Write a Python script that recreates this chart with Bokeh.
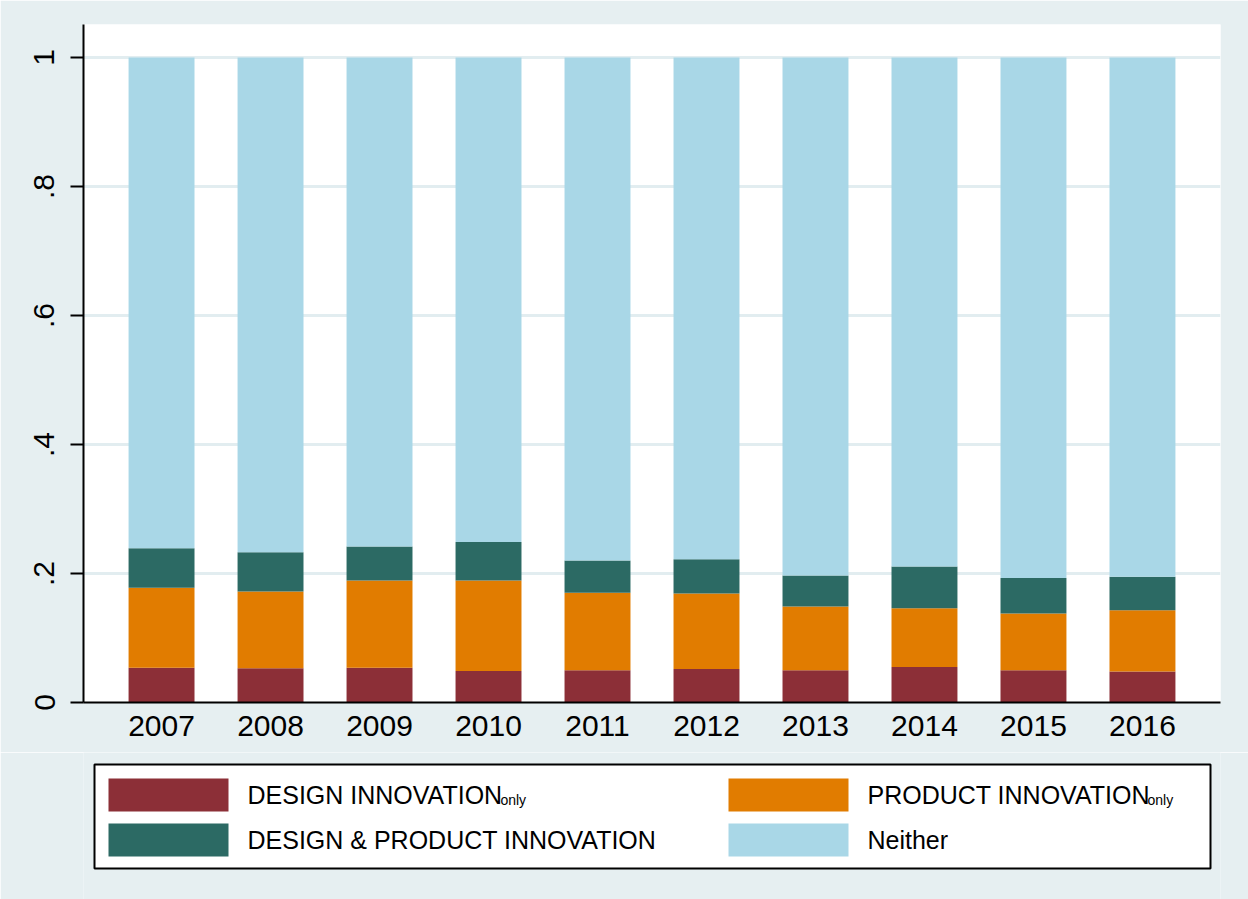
import math
from bokeh.plotting import figure
from bokeh.models import ColumnDataSource, Range1d, FixedTicker
from bokeh.layouts import column
from bokeh.core.properties import value
from bokeh.embed import file_html
from bokeh.resources import INLINE

# ---- data ----
years = [2007, 2008, 2009, 2010, 2011, 2012, 2013, 2014, 2015, 2016]
design_only = [0.054, 0.053, 0.054, 0.049, 0.050, 0.052, 0.050, 0.055, 0.050, 0.048]
product_only = [0.124, 0.119, 0.135, 0.140, 0.120, 0.117, 0.099, 0.091, 0.088, 0.095]
design_and_product = [0.061, 0.061, 0.053, 0.060, 0.050, 0.053, 0.048, 0.065, 0.055, 0.052]
neither = [0.761, 0.767, 0.758, 0.751, 0.780, 0.778, 0.803, 0.789, 0.807, 0.805]

y_ticks = [0, 0.2, 0.4, 0.6, 0.8, 1.0]
y_tick_labels = ["0", ".2", ".4", ".6", ".8", "1"]

series_keys = ["design_only", "product_only", "design_and_product", "neither"]
series_colors = ["#8C2F37", "#E17C00", "#2C6A64", "#A9D7E7"]
legend_main = ["DESIGN INNOVATION", "PRODUCT INNOVATION", "DESIGN & PRODUCT INNOVATION", "Neither"]
legend_sub = ["only", "only", "", ""]

BG = "#E6EFF1"
FONT = "Liberation Sans"
W = 1248
TOP_H = 752
LEG_H = 147
FR_L, FR_R = 83, 1220

source = ColumnDataSource(dict(
    year=years,
    design_only=design_only,
    product_only=product_only,
    design_and_product=design_and_product,
    neither=neither,
))

p = figure(width=W, height=TOP_H, output_backend="svg", toolbar_location=None,
           x_range=Range1d(2006.284, 2016.716), y_range=Range1d(0, 1.0512),
           min_border_left=FR_L, min_border_right=W - FR_R, min_border_top=24,
           min_border_bottom=50)
p.background_fill_color = "white"
p.border_fill_color = BG
p.outline_line_color = None

p.vbar_stack(series_keys, x="year", width=0.605, color=series_colors, source=source,
             line_color=None)

ticker = FixedTicker(ticks=y_ticks)
p.yaxis.ticker = ticker
p.yaxis.major_label_overrides = {t: l for t, l in zip(y_ticks, y_tick_labels)}
p.yaxis.major_label_orientation = "parallel"
p.yaxis.major_tick_out = 13
p.yaxis.major_tick_in = 0
p.yaxis.minor_tick_line_color = None
p.yaxis.major_tick_line_width = 2
p.yaxis.major_tick_line_color = "black"
p.yaxis.axis_line_width = 2
p.yaxis.axis_line_color = "black"
p.yaxis.major_label_standoff = 16

p.xaxis.ticker = FixedTicker(ticks=years)
p.xaxis.major_tick_out = 0
p.xaxis.major_tick_in = 0
p.xaxis.minor_tick_line_color = None
p.xaxis.axis_line_width = 2
p.xaxis.axis_line_color = "black"
p.xaxis.major_label_standoff = 13

for ax in (p.xaxis, p.yaxis):
    ax.major_label_text_font = FONT
    ax.major_label_text_font_size = "30px"
    ax.major_label_text_color = "black"

p.xgrid.grid_line_color = None
p.ygrid.ticker = ticker
p.ygrid.grid_line_color = "#E2EDF0"
p.ygrid.grid_line_width = 3

# ---- legend panel (data units = screen pixels; frames aligned with the chart) ----
leg = figure(width=W, height=LEG_H, output_backend="svg", toolbar_location=None,
             x_range=Range1d(FR_L, FR_R), y_range=Range1d(LEG_H, 0),
             min_border_left=FR_L, min_border_right=W - FR_R,
             min_border_top=0, min_border_bottom=0)
leg.axis.visible = False
leg.grid.visible = False
leg.outline_line_color = None
leg.background_fill_color = BG
leg.border_fill_color = BG

leg.quad(left=[94], right=[1210], top=[12], bottom=[116], fill_color="white",
         line_color="black", line_width=2)

ARIAL = {" ": 278, "&": 667, "A": 667, "C": 722, "D": 722, "E": 667, "G": 778,
         "I": 278, "N": 722, "O": 778, "P": 667, "R": 722, "S": 667, "T": 611,
         "U": 722, "V": 667, "e": 556, "h": 556, "i": 222, "r": 333, "t": 278}

def text_width(s, size):
    return sum(ARIAL.get(c, 600) for c in s) * size / 1000.0 * 0.975

col_x = [108, 728]
row_top = [26, 71]
sw_w, sw_h = 120, 33
text_gap = 19
main_size = 25
sub_size = 14

for i, (lab, sub, col) in enumerate(zip(legend_main, legend_sub, series_colors)):
    c, r = i % 2, i // 2
    x0 = col_x[c]
    y0 = row_top[r]
    leg.quad(left=[x0], right=[x0 + sw_w], top=[y0], bottom=[y0 + sw_h],
             fill_color=col, line_color=None)
    tx = x0 + sw_w + text_gap
    base = y0 + 16
    leg.text(x=[tx], y=[base], text=[lab], text_font=value(FONT),
             text_font_size=f"{main_size}px", text_baseline="alphabetic",
             text_align="left", text_color="black")
    if sub:
        sx = tx + text_width(lab, main_size) + 1
        leg.text(x=[sx], y=[base + 5], text=[sub], text_font=value(FONT),
                 text_font_size=f"{sub_size}px", text_baseline="alphabetic",
                 text_align="left", text_color="black")

layout = column(p, leg, spacing=0)
open("out.html", "w").write(file_html(layout, INLINE))
